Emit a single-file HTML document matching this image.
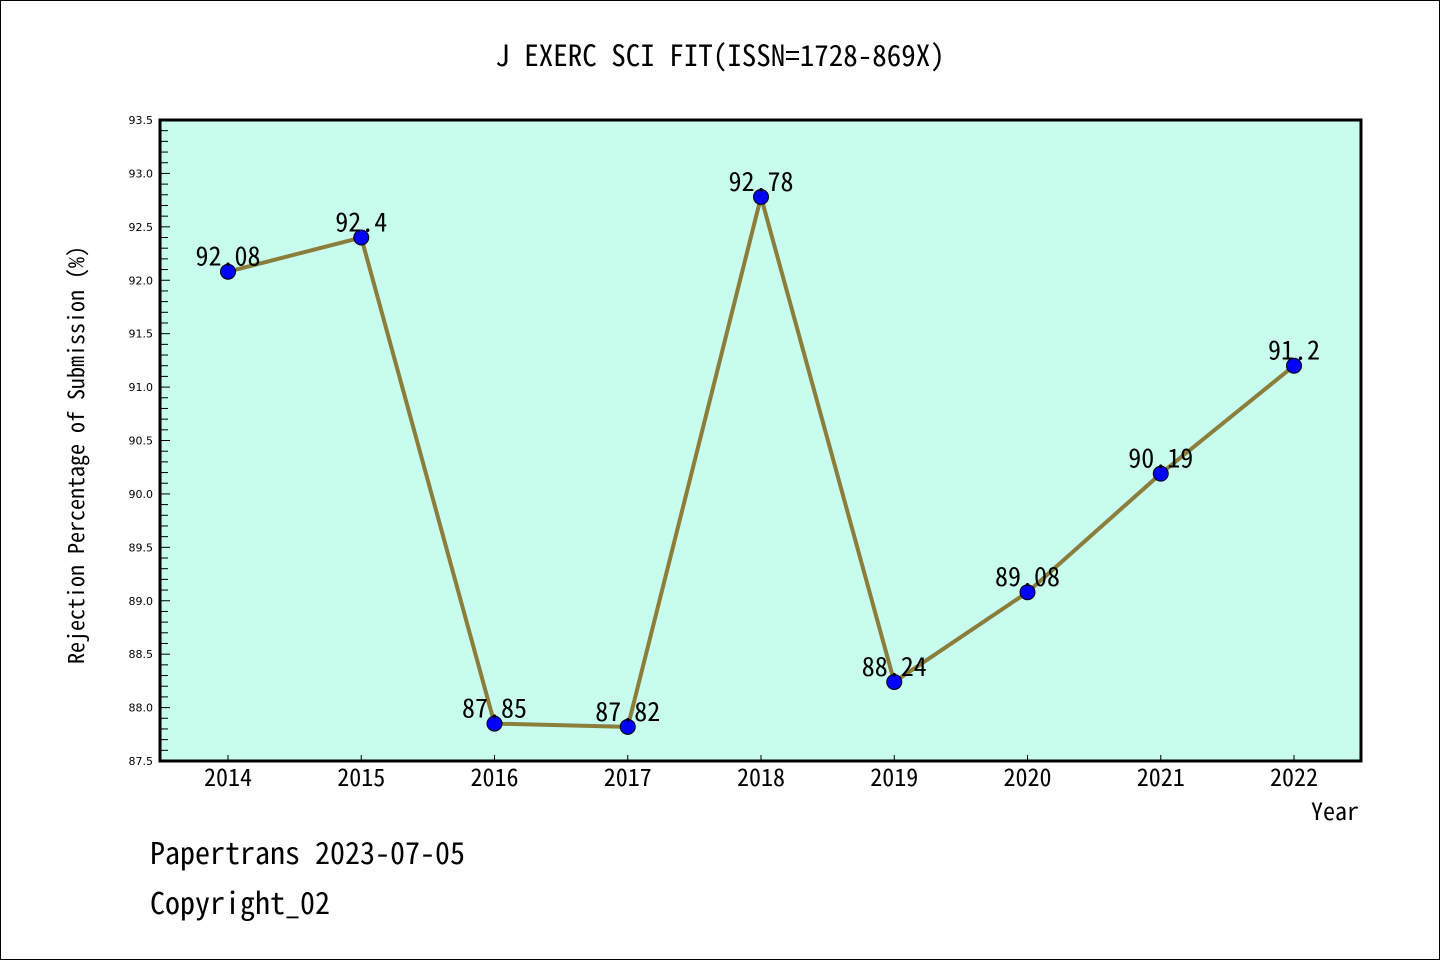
<!DOCTYPE html>
<html><head><meta charset="utf-8"><style>
body{margin:0;background:#fff}
svg{display:block}
text{font-family:"WenQuanYi Zen Hei Mono","Noto Sans Mono CJK SC","DejaVu Sans Mono",monospace}
text.sm{font-family:"DejaVu Sans","Liberation Sans",sans-serif}
</style></head><body>
<svg id="c" width="1440" height="960" xmlns="http://www.w3.org/2000/svg">
<rect x="0.5" y="0.5" width="1439" height="959" fill="#fff" stroke="#000"/>
<text x="720" y="66" font-size="29" text-anchor="middle">J EXERC SCI FIT(ISSN=1728-869X)</text>
<rect x="160" y="120" width="1201" height="641" fill="#c8fcee"/>
<g id="ticks"></g>
<g id="marks"></g>
<rect x="160" y="120" width="1201" height="641" fill="none" stroke="#000" stroke-width="3"/>
<text transform="translate(84,455) rotate(-90)" font-size="22" text-anchor="middle">Rejection Percentage of Submission (%)</text>
<text x="1359" y="820" font-size="24" text-anchor="end">Year</text>
<text x="150" y="864" font-size="30">Papertrans 2023-07-05</text>
<text x="150" y="914" font-size="30">Copyright_02</text>
</svg>
<script>
const categories=["2014","2015","2016","2017","2018","2019","2020","2021","2022"];
const values=[92.08,92.4,87.85,87.82,92.78,88.24,89.08,90.19,91.2];
const valueLabels=["92.08","92.4","87.85","87.82","92.78","88.24","89.08","90.19","91.2"];
const yTicks=["87.5","88.0","88.5","89.0","89.5","90.0","90.5","91.0","91.5","92.0","92.5","93.0","93.5"];
const NS="http://www.w3.org/2000/svg";
const yMin=87.5,yMax=93.5,plotTop=120,plotBot=761,plotLeft=160;
const ys=v=>plotBot-(v-yMin)/(yMax-yMin)*(plotBot-plotTop);
const xs=i=>228+i*(1294-228)/(categories.length-1);
function mk(tag,attrs,parent){const e=document.createElementNS(NS,tag);for(const k in attrs)e.setAttribute(k,attrs[k]);parent.appendChild(e);return e;}
const tg=document.getElementById('ticks'),mg=document.getElementById('marks');
for(let k=0;k<=60;k++){const v=yMin+k*0.1;const major=k%5===0;
 const l=mk('line',{x1:plotLeft,x2:plotLeft+(major?10:8),y1:ys(v),y2:ys(v),stroke:'#000','stroke-width':1},tg);
 
 }
yTicks.forEach(t=>{const e=mk('text',{x:153,y:ys(+t)+4,'font-size':11,'text-anchor':'end','class':'sm'},tg);e.textContent=t;
 
 });
categories.forEach((c,i)=>{const l=mk('line',{x1:xs(i),x2:xs(i),y1:plotBot,y2:plotBot-6,stroke:'#000','stroke-width':1},tg);
 
 
 const t=mk('text',{x:xs(i),y:786,'font-size':24,'text-anchor':'middle'},tg);t.textContent=c;
 
 });
const pl=mk('polyline',{points:values.map((v,i)=>xs(i)+','+ys(v)).join(' '),fill:'none',stroke:'#8b7d3a','stroke-width':4,'stroke-linejoin':'round'},mg);


values.forEach((v,i)=>{const c=mk('circle',{cx:xs(i),cy:ys(v),r:7.5,fill:'#0000ff',stroke:'#000','stroke-width':1},mg);
 
 
 const t=mk('text',{x:xs(i),y:ys(v)-6,'font-size':26,'text-anchor':'middle'},mg);t.textContent=valueLabels[i];
 
 });
</script>
</body></html>
